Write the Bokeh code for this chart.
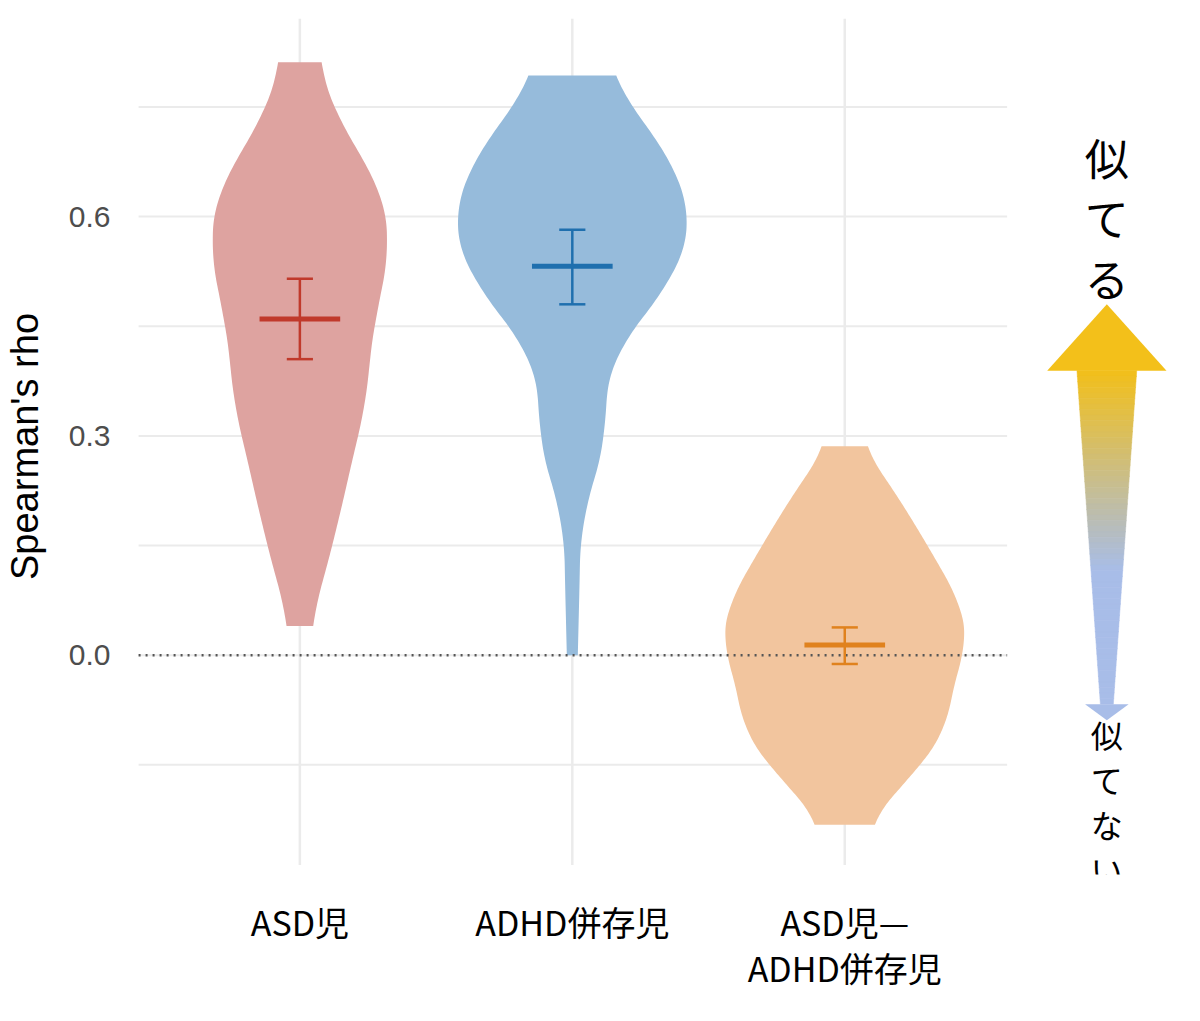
import numpy as np
from bokeh.plotting import figure
from bokeh.models import FixedTicker, Range1d
from bokeh.core.properties import value
from bokeh.embed import file_html
from bokeh.resources import INLINE

categories = ["ASD児", "ADHD併存児", "ASD児—\nADHD併存児"]
centers = [1, 2, 3]
# violin profiles: y level and half width (category units)
asd_y  = [0.811, 0.728, 0.637, 0.566, 0.508, 0.444, 0.353, 0.288, 0.185, 0.094, 0.040]
asd_hw = [0.066, 0.143, 0.307, 0.329, 0.311, 0.263, 0.249, 0.205, 0.143, 0.080, 0.037]
adhd_y  = [0.793, 0.703, 0.638, 0.586, 0.521, 0.457, 0.405, 0.353, 0.301, 0.250, 0.185, 0.120, 0.056, 0.0]
adhd_hw = [0.128, 0.322, 0.413, 0.442, 0.384, 0.249, 0.135, 0.117, 0.132, 0.088, 0.033, 0.026, 0.026, 0.018]
diff_y  = [0.286, 0.224, 0.146, 0.069, 0.017, -0.035, -0.100, -0.151, -0.203, -0.232]
diff_hw = [0.066, 0.183, 0.311, 0.428, 0.450, 0.402, 0.373, 0.282, 0.146, 0.091]
means = [0.460, 0.532, 0.014]
lowers = [0.405, 0.480, -0.012]
uppers = [0.515, 0.582, 0.038]
yticks = [0.0, 0.3, 0.6]
grid_y = [-0.15, 0.0, 0.15, 0.3, 0.45, 0.6, 0.75]

fills = ["#dea3a0", "#96bbdb", "#f2c59e"]
darks = ["#c0392b", "#1f6fae", "#e0821e"]

YB = -0.300
p = figure(width=1184, height=995, output_backend="svg", toolbar_location=None,
           x_range=Range1d(0.371, 4.247), y_range=Range1d(YB, 0.871),
           min_border_left=122, min_border_right=0, min_border_top=18, min_border_bottom=70)
p.outline_line_color = None
p.xgrid.visible = False
p.ygrid.visible = False

for gy in grid_y:
    p.segment(0.408, gy, 3.596, gy, line_color="#ebebeb", line_width=2)
for c in centers:
    p.segment(c, -0.287, c, 0.871, line_color="#ebebeb", line_width=2.5)

def smooth_profile(ys, hws):
    ys = np.array(ys); hws = np.array(hws)
    order = np.argsort(ys)
    yf = np.linspace(ys.min(), ys.max(), 200)
    hf = np.interp(yf, ys[order], hws[order])
    k = 15
    pad = np.concatenate([np.full(k, hf[0]), hf, np.full(k, hf[-1])])
    hs = np.convolve(pad, np.ones(2 * k + 1) / (2 * k + 1), mode="same")[k:-k]
    return yf, hs

profiles = [(asd_y, asd_hw), (adhd_y, adhd_hw), (diff_y, diff_hw)]
for c, (ys, hws), f in zip(centers, profiles, fills):
    yf, hs = smooth_profile(ys, hws)
    xs = np.concatenate([c + hs, (c - hs)[::-1]])
    yy = np.concatenate([yf, yf[::-1]])
    p.patch(xs, yy, fill_color=f, fill_alpha=1, line_color=None)

p.segment(0.408, 0, 3.596, 0, line_color="#555555", line_width=2.5, line_dash="2 5")

for c, m, lo, hi, d in zip(centers, means, lowers, uppers, darks):
    p.segment(c, lo, c, hi, line_color=d, line_width=2.5)
    p.segment(c - 0.048, lo, c + 0.048, lo, line_color=d, line_width=2.5)
    p.segment(c - 0.048, hi, c + 0.048, hi, line_color=d, line_width=2.5)
    p.segment(c - 0.148, m, c + 0.148, m, line_color=d, line_width=5)

# gradient arrow
ax = 3.962
top_c = np.array([0xf3, 0xc0, 0x1a]); bot_c = np.array([0xa8, 0xbd, 0xe8])
y0, y1 = 0.389, -0.067
w0, w1 = 0.1097, 0.0238
n = 60
for i in range(n):
    ta, tb = i / n, (i + 1) / n
    ya, yb = y0 + (y1 - y0) * ta, y0 + (y1 - y0) * tb
    wa, wb = w0 + (w1 - w0) * ta, w0 + (w1 - w0) * tb
    t = min(1, (ta + tb) / 2 / 0.6)
    col = top_c + (bot_c - top_c) * t
    hexc = "#%02x%02x%02x" % tuple(int(v) for v in col)
    p.patch([ax - wa, ax + wa, ax + wb, ax - wb], [ya + 0.0005, ya + 0.0005, yb, yb],
            fill_color=hexc, line_color=hexc, line_width=0.5)
p.patch([ax - 0.219, ax + 0.219, ax], [0.389, 0.389, 0.480], fill_color="#f3c01a", line_color=None)
p.patch([ax - 0.080, ax + 0.080, ax], [-0.067, -0.067, -0.089], fill_color="#a8bde8", line_color=None)

p.text([ax], [0.599], text=["似\nて\nる"], text_font=value("Noto Sans CJK JP"),
       text_font_size="44px", text_align="center", text_baseline="middle",
       text_line_height=0.95, text_color="black")
p.text([ax], [-0.200], text=["似\nて\nな\nい"], text_font=value("Noto Sans CJK JP"),
       text_font_size="32px", text_align="center", text_baseline="middle",
       text_line_height=0.98, text_color="black")

p.xaxis.ticker = FixedTicker(ticks=centers)
p.xaxis.major_label_overrides = {c: l for c, l in zip(centers, categories)}
p.xaxis.major_label_text_font = "Noto Sans CJK JP"
p.xaxis.major_label_text_font_size = "34px"
p.xaxis.major_label_text_color = "black"
p.xaxis.major_label_text_line_height = 0.95
p.xaxis.major_label_standoff = 16
p.xaxis.axis_line_color = None
p.xaxis.major_tick_line_color = None
p.xaxis.minor_tick_line_color = None

p.yaxis.ticker = FixedTicker(ticks=yticks)
p.yaxis.major_label_overrides = {t: "%.1f" % t for t in yticks}
p.yaxis.major_label_text_font = "Liberation Sans"
p.yaxis.major_label_text_font_size = "30px"
p.yaxis.major_label_text_color = "#4d4d4d"
p.yaxis.major_label_standoff = 12
p.yaxis.axis_line_color = None
p.yaxis.major_tick_line_color = None
p.yaxis.minor_tick_line_color = None
p.yaxis.axis_label = "Spearman's rho"
p.yaxis.axis_label_text_font = "Liberation Sans"
p.yaxis.axis_label_text_font_style = "normal"
p.yaxis.axis_label_text_font_size = "38px"
p.yaxis.axis_label_text_color = "black"
p.yaxis.axis_label_standoff = 20

open("out.html", "w").write(file_html(p, INLINE))
